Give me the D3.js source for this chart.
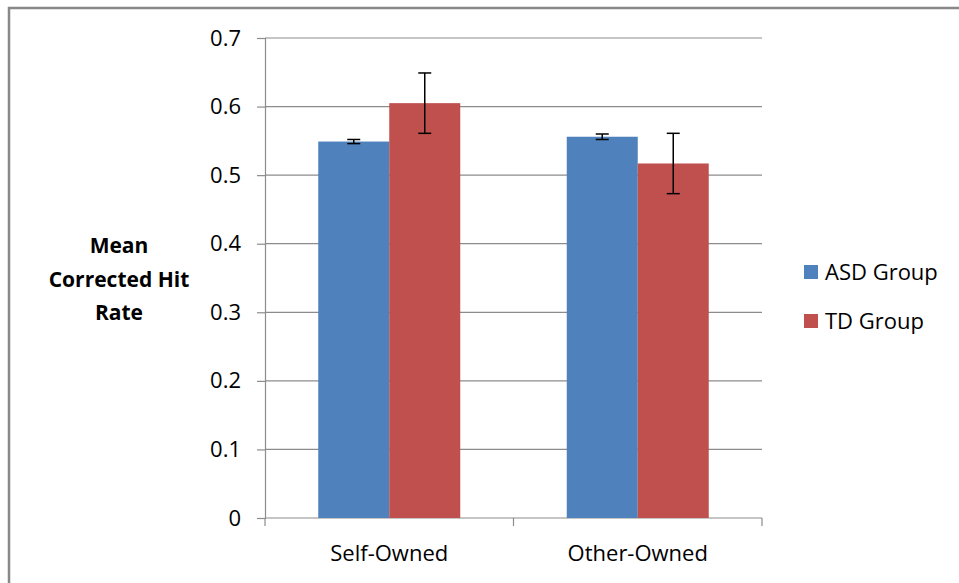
<!DOCTYPE html>
<html><head><meta charset="utf-8">
<script src="https://cdn.jsdelivr.net/npm/d3@7"></script>
<style>body{margin:0;background:#fff}svg{display:block}text{font-family:"Open Sans","Noto Sans",sans-serif;fill:#000}</style>
</head><body>
<svg id="c" width="959" height="583"></svg>
<script>
const categories = ["Self-Owned", "Other-Owned"];
const seriesNames = ["ASD Group", "TD Group"];
const asdValues = [0.549, 0.556];
const tdValues = [0.605, 0.517];
const asdErrors = [0.003, 0.004];
const tdErrors = [0.044, 0.044];
const yTicks = [0, 0.1, 0.2, 0.3, 0.4, 0.5, 0.6, 0.7];
const colors = ["#4F81BD", "#C0504D"];

(function(){
const svg = d3.select("#c");
svg.append("path").attr("d","M9,583 V8 H959").attr("fill","none").attr("stroke","#888").attr("stroke-width",2.5);

const pLeft = 265, pRight = 762, pTop = 38, pBottom = 518;
const x0 = d3.scaleBand().domain(categories).range([pLeft, pRight]).paddingInner(0).paddingOuter(0);
const x1 = d3.scaleBand().domain(seriesNames).range([0, x0.bandwidth()]).paddingInner(0).paddingOuter(0.75);
const y = d3.scaleLinear().domain([0, 0.7]).range([pBottom, pTop]);

svg.append("g").selectAll("line").data(yTicks.filter(d=>d>0)).join("line")
  .attr("x1", pLeft).attr("x2", pRight).attr("y1", d=>y(d)).attr("y2", d=>y(d))
  .attr("stroke","#8c8c8c").attr("stroke-width",1.2);

const yAxis = d3.axisLeft(y).tickValues(yTicks).tickSize(8).tickPadding(16)
  .tickFormat(d => d === 0 ? "0" : d3.format(".1f")(d));
const ga = svg.append("g").attr("transform", `translate(${pLeft},0)`).call(yAxis);
ga.select(".domain").attr("stroke","#8c8c8c").attr("stroke-width",1.2);
ga.selectAll(".tick line").attr("stroke","#8c8c8c").attr("stroke-width",1.2);
ga.selectAll(".tick text").attr("font-size",22).attr("font-family","Open Sans").attr("fill","#000");

const xAxisG = svg.append("g").attr("transform", `translate(0,${pBottom})`);
xAxisG.append("line").attr("x1",pLeft).attr("x2",pRight).attr("stroke","#8c8c8c").attr("stroke-width",1.2);
const bounds = [pLeft, pLeft + x0.bandwidth(), pRight];
xAxisG.selectAll("line.t").data(bounds).join("line").attr("class","t")
  .attr("x1",d=>d).attr("x2",d=>d).attr("y1",0).attr("y2",8).attr("stroke","#8c8c8c").attr("stroke-width",1.2);
xAxisG.selectAll("text").data(categories).join("text")
  .attr("x", d=>x0(d)+x0.bandwidth()/2).attr("y", 43).attr("text-anchor","middle")
  .attr("font-size",22).text(d=>d);

const data = categories.map((c,i)=>[
  {cat:c, s:seriesNames[0], v:asdValues[i], e:asdErrors[i], col:colors[0]},
  {cat:c, s:seriesNames[1], v:tdValues[i], e:tdErrors[i], col:colors[1]}
]).flat();
svg.append("g").selectAll("rect").data(data).join("rect")
  .attr("x", d=>x0(d.cat)+x1(d.s)).attr("width", x1.bandwidth())
  .attr("y", d=>y(d.v)).attr("height", d=>y(0)-y(d.v)).attr("fill", d=>d.col);

const eb = svg.append("g").attr("stroke","#000").attr("stroke-width",1.5);
data.forEach(d=>{
  const cx = x0(d.cat)+x1(d.s)+x1.bandwidth()/2;
  eb.append("line").attr("x1",cx).attr("x2",cx).attr("y1",y(d.v+d.e)).attr("y2",y(d.v-d.e));
  eb.append("line").attr("x1",cx-6.5).attr("x2",cx+6.5).attr("y1",y(d.v+d.e)).attr("y2",y(d.v+d.e));
  eb.append("line").attr("x1",cx-6.5).attr("x2",cx+6.5).attr("y1",y(d.v-d.e)).attr("y2",y(d.v-d.e));
});

const t = svg.append("text").attr("text-anchor","middle").attr("font-weight","bold").attr("font-size",21);
["Mean","Corrected Hit","Rate"].forEach((s,i)=>{
  t.append("tspan").attr("x",119).attr("y",253+i*33.5).text(s);
});

const lg = svg.append("g");
seriesNames.forEach((s,i)=>{
  const yy = 272 + i*49;
  lg.append("rect").attr("x",804).attr("y",yy-7).attr("width",14).attr("height",14).attr("fill",colors[i]);
  lg.append("text").attr("x",825).attr("y",yy+8).attr("font-size",22).text(s);
});
})();
</script>
</body></html>
